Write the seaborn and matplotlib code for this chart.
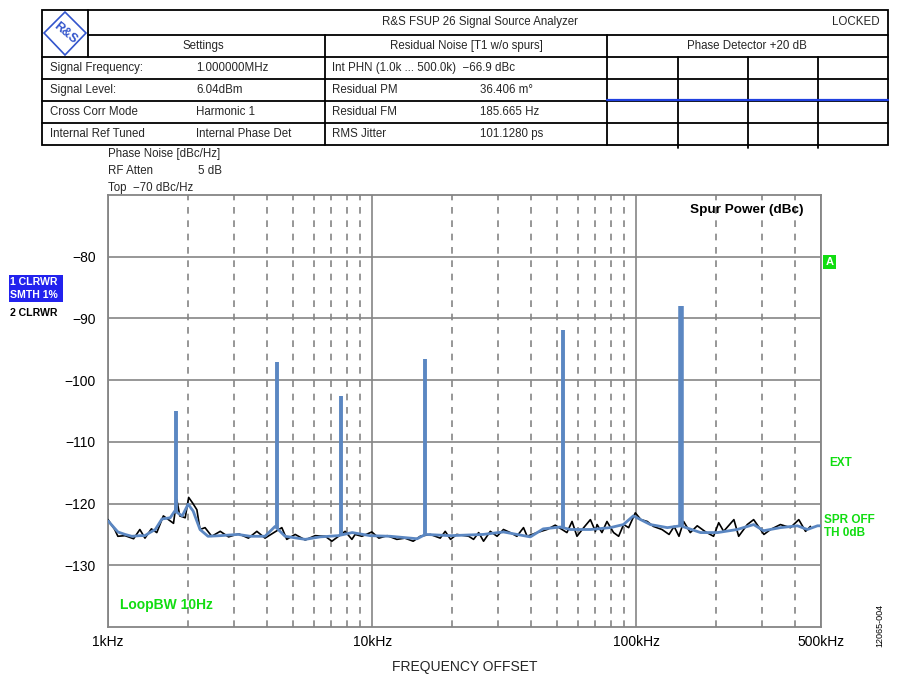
import matplotlib
matplotlib.use("Agg")
import matplotlib.pyplot as plt
import seaborn as sns
from matplotlib.ticker import FixedLocator, NullFormatter
from matplotlib.patches import Polygon, Rectangle

# ---------------- data (frequency offset in kHz, level in dBc/Hz) ----------------
blue_freq = [1.00, 1.09, 1.16, 1.23, 1.32, 1.38, 1.44, 1.51, 1.60, 1.72, 1.79, 1.91, 2.01, 2.10,
             2.23, 2.39, 2.66, 3.11, 3.45, 3.93, 4.29, 4.68, 5.58, 6.35, 7.43, 8.40, 9.83, 11.7,
             14.8, 15.9, 19.8, 26.3, 31.4, 39.7, 44.4, 51.5, 56.2, 67.0, 79.7, 89.3, 97.4, 113,
             131, 147, 175, 203, 241, 278, 303, 351, 407, 444, 485, 500]
blue_dbc = [-122.8, -124.6, -125.0, -125.3, -125.2, -125.2, -124.7, -124.2, -122.5, -122.3, -121.2,
            -122.0, -120.1, -121.2, -124.2, -125.3, -125.2, -125.0, -125.3, -125.3, -123.7, -125.3,
            -125.8, -125.4, -125.2, -124.7, -125.2, -125.3, -125.7, -125.0, -125.2, -125.0, -124.6,
            -125.4, -124.1, -123.8, -124.2, -124.2, -123.9, -123.4, -122.0, -123.4, -123.9, -123.6,
            -124.7, -124.7, -124.2, -123.4, -124.4, -123.9, -123.6, -124.2, -123.6, -123.6]

black_freq = [1.00, 1.06, 1.09, 1.16, 1.25, 1.32, 1.38, 1.46, 1.53, 1.62, 1.77, 1.82, 1.87, 1.96,
              2.02, 2.09, 2.17, 2.23, 2.33, 2.47, 2.66, 2.86, 3.12, 3.40, 3.66, 3.93, 4.55, 4.75,
              5.11, 5.58, 6.08, 6.64, 7.04, 7.46, 7.90, 8.38, 8.62, 9.14, 9.97, 10.6, 11.4, 12.4,
              13.3, 14.3, 15.2, 16.6, 18.1, 18.9, 19.8, 20.9, 23.2, 24.2, 25.3, 26.4, 28.0, 29.7,
              31.4, 33.3, 35.3, 37.4, 38.6, 42.1, 45.9, 49.3, 54.6, 57.1, 59.6, 63.2, 67.0, 70.0,
              71.0, 74.1, 77.4, 82.0, 85.7, 89.5, 93.5, 99.1, 104, 110, 116, 125, 133, 139, 145,
              151, 160, 170, 183, 196, 205, 214, 234, 244, 263, 278, 304, 322, 351, 383, 412,
              437, 456]
black_dbc = [-122.6, -124.2, -125.3, -125.2, -125.7, -124.2, -125.6, -124.1, -124.7, -122.0, -123.2,
             -119.3, -122.0, -122.3, -119.0, -119.9, -121.0, -124.2, -123.9, -125.3, -124.5, -125.4,
             -124.9, -125.6, -124.5, -125.6, -123.9, -125.8, -125.0, -125.9, -125.2, -125.3, -126.1,
             -125.3, -124.5, -125.8, -125.0, -125.3, -124.6, -125.6, -125.2, -125.8, -125.6, -126.1,
             -125.3, -125.0, -125.6, -124.5, -125.8, -125.0, -125.3, -125.8, -124.7, -126.1, -124.5,
             -125.3, -124.2, -124.7, -125.3, -123.9, -125.3, -124.7, -124.2, -123.5, -124.7, -122.9,
             -125.3, -123.9, -122.6, -124.5, -123.4, -124.7, -122.9, -124.7, -125.3, -123.4, -123.9,
             -121.5, -122.6, -122.9, -123.7, -124.2, -125.0, -123.7, -125.3, -122.9, -124.7, -123.6,
             -124.6, -125.3, -123.1, -124.5, -122.6, -125.3, -123.4, -122.6, -125.0, -124.2, -123.4,
             -123.9, -122.6, -124.5, -123.7]

spur_freq = [1.81, 4.37, 7.63, 15.9, 52.9, 148]
spur_top = [-105.0, -97.0, -102.5, -96.5, -91.8, -88.0]
spur_base = [-121.5, -124.0, -125.0, -125.0, -123.8, -123.6]
spur_width = [2.8, 2.8, 2.8, 2.8, 2.8, 4.0]

x_major = [1, 10, 100, 500]
x_major_labels = ["1kHz", "10kHz", "100kHz", "500kHz"]
x_minor = [2, 3, 4, 5, 6, 7, 8, 9, 20, 30, 40, 50, 60, 70, 80, 90, 200, 300, 400]
y_ticks = [-130, -120, -110, -100, -90, -80]

settings_rows = [("Signal Frequency:", "1.000000MHz"), ("Signal Level:", "6.04dBm"),
                 ("Cross Corr Mode", "Harmonic 1"), ("Internal Ref Tuned", "Internal Phase Det")]
noise_rows = [("Int PHN (1.0k ... 500.0k)  \u221266.9 dBc", ""), ("Residual PM", "36.406 m\u00b0"),
              ("Residual FM", "185.665 Hz"), ("RMS Jitter", "101.1280 ps")]

# ---------------- style ----------------
sns.set_theme(style="white")
plt.rcParams['font.family'] = ['Liberation Sans', 'DejaVu Sans']
BLUE = "#5b87c2"
GRID = "#858585"
GREEN = "#11dd11"

fig = plt.figure(figsize=(9, 6.78), dpi=100)
ax = fig.add_axes([108 / 900, 1 - 627 / 678, 713 / 900, 432 / 678])
ax.set_xscale('log')

sns.lineplot(x=black_freq, y=black_dbc, ax=ax, color='black', lw=1.2, sort=False,
             estimator=None, zorder=3)
sns.lineplot(x=blue_freq, y=blue_dbc, ax=ax, color=BLUE, lw=2.0, sort=False,
             estimator=None, zorder=4)
for f, t, b, w in zip(spur_freq, spur_top, spur_base, spur_width):
    ax.vlines(f, b, t, color=BLUE, lw=w, zorder=5)

ax.set_xlim(1, 500)
ax.set_ylim(-140, -70)
ax.set_xticks(x_major)
ax.set_xticklabels(x_major_labels)
ax.xaxis.set_minor_locator(FixedLocator(x_minor))
ax.xaxis.set_minor_formatter(NullFormatter())
ax.set_yticks(y_ticks)
ax.set_yticklabels([f"\u2212{abs(v)}" for v in y_ticks])
ax.tick_params(axis='both', which='both', length=0, labelsize=10, colors='black')
ax.tick_params(axis='y', pad=9)
ax.tick_params(axis='x', pad=6)
ax.grid(which='major', axis='both', color=GRID, lw=1.2, ls='-')
ax.grid(which='minor', axis='x', color=GRID, lw=1.2, ls=(0, (4, 4)))
ax.set_axisbelow(True)
for s in ax.spines.values():
    s.set_color(GRID)
    s.set_linewidth(1.3)
ax.set_xlabel("FREQUENCY OFFSET", fontsize=10, labelpad=8)
ax.set_ylabel("")

ax.text(0.975, 0.965, "Spur Power (dBc)", transform=ax.transAxes, ha='right', va='center',
        fontsize=9.7, fontweight='bold', color='black')
ax.text(0.017, 0.05, "LoopBW 10Hz", transform=ax.transAxes, ha='left', va='center',
        fontsize=10, fontweight='bold', color=GREEN)

# ---------------- overlay (pixel coordinates) ----------------
ov = fig.add_axes([0, 0, 1, 1], zorder=10)
ov.set_xlim(0, 900)
ov.set_ylim(678, 0)
ov.axis('off')

LW = 1.3
TF = 8.3
ov.add_patch(Rectangle((42, 10), 846, 135, fill=False, ec='black', lw=LW))
ov.plot([88, 888], [35, 35], color='black', lw=LW)
for yy in [57, 79, 101, 123]:
    ov.plot([42, 888], [yy, yy], color='black', lw=LW)
ov.plot([88, 88], [10, 57], color='black', lw=LW)
for xx in [325, 607]:
    ov.plot([xx, xx], [35, 145], color='black', lw=LW)
for xx in [678, 748, 818]:
    ov.plot([xx, xx], [57, 148], color='black', lw=LW)
ov.plot([607, 888], [100, 100], color='#2040e0', lw=1.6)

# logo
ov.add_patch(Polygon([[65, 12], [86, 33], [65, 55], [44, 33]], closed=True, fill=False,
                     ec='#3355cc', lw=1.2))
ov.text(65, 33, "R&S", ha='center', va='center', fontsize=9, color='#3355cc',
        rotation=-40, fontweight='bold')

ov.text(480, 22, "R&S FSUP 26 Signal Source Analyzer", ha='center', va='center', fontsize=TF)
ov.text(880, 22, "LOCKED", ha='right', va='center', fontsize=TF)
ov.text(203, 46, "Settings", ha='center', va='center', fontsize=TF)
ov.text(466, 46, "Residual Noise [T1 w/o spurs]", ha='center', va='center', fontsize=TF)
ov.text(747, 46, "Phase Detector +20 dB", ha='center', va='center', fontsize=TF)
for i, ((a, b), (c, d)) in enumerate(zip(settings_rows, noise_rows)):
    yy = 68 + 22 * i
    ov.text(50, yy, a, ha='left', va='center', fontsize=TF)
    ov.text(196, yy, b, ha='left', va='center', fontsize=TF)
    ov.text(332, yy, c, ha='left', va='center', fontsize=TF)
    ov.text(480, yy, d, ha='left', va='center', fontsize=TF)

ov.text(108, 154, "Phase Noise [dBc/Hz]", ha='left', va='center', fontsize=TF)
ov.text(108, 171, "RF Atten", ha='left', va='center', fontsize=TF)
ov.text(198, 171, "5 dB", ha='left', va='center', fontsize=TF)
ov.text(108, 188, "Top  \u221270 dBc/Hz", ha='left', va='center', fontsize=TF)

# trace labels
ov.add_patch(Rectangle((9, 275), 54, 27, fc='#2222ee', ec='none'))
ov.text(10, 282, "1 CLRWR", ha='left', va='center', fontsize=7.6, fontweight='bold', color='white')
ov.text(10, 295, "SMTH 1%", ha='left', va='center', fontsize=7.6, fontweight='bold', color='white')
ov.text(10, 313, "2 CLRWR", ha='left', va='center', fontsize=7.6, fontweight='bold', color='black')

ov.add_patch(Rectangle((823, 255), 13, 14, fc=GREEN, ec='none'))
ov.text(829.5, 262, "A", ha='center', va='center', fontsize=8, fontweight='bold', color='white')
ov.text(829, 463, "EXT", ha='left', va='center', fontsize=8.5, fontweight='bold', color=GREEN)
ov.text(824, 520, "SPR OFF", ha='left', va='center', fontsize=8.5, fontweight='bold', color=GREEN)
ov.text(824, 533, "TH 0dB", ha='left', va='center', fontsize=8.5, fontweight='bold', color=GREEN)
ov.text(880, 625, "12065-004", ha='center', va='center', fontsize=6.5, rotation=90, color='black')

fig.savefig("out.png", dpi=100)
